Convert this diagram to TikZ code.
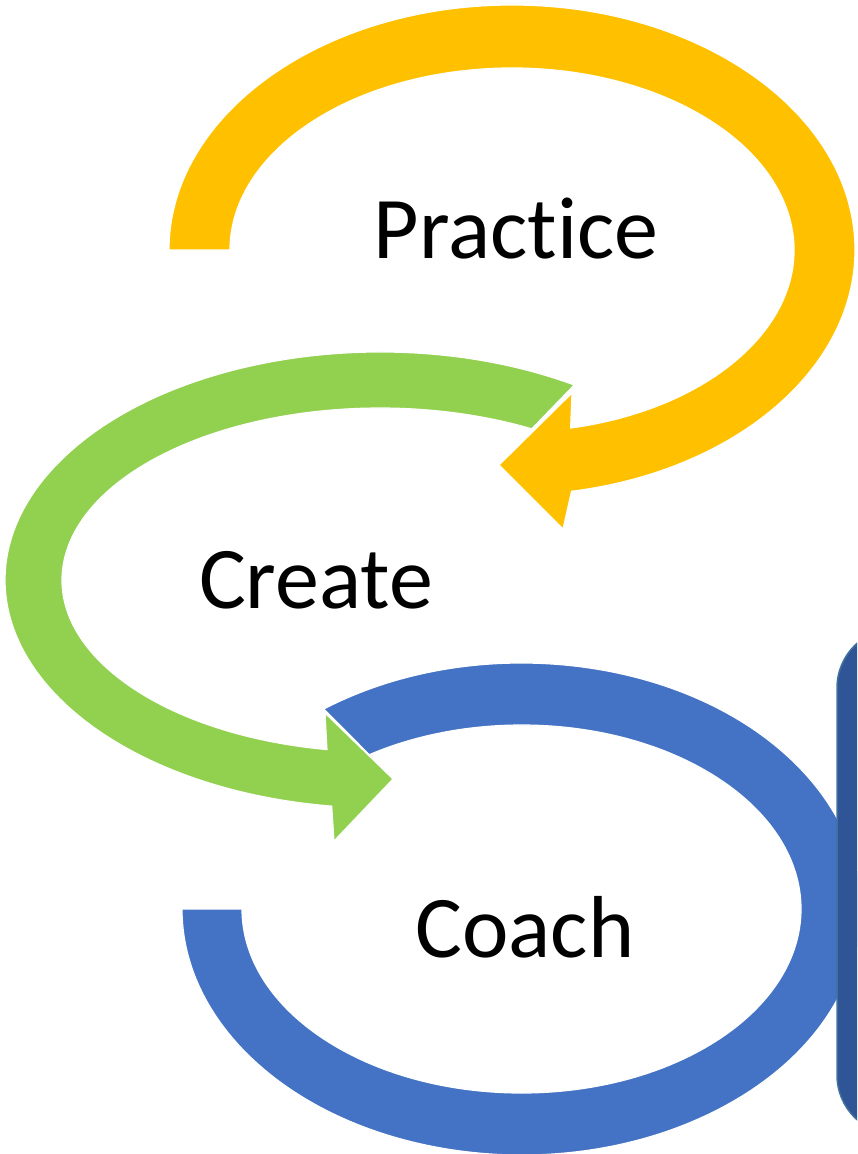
\documentclass[tikz,border=0pt]{standalone}
\usepackage{fontspec}
\setmainfont{Carlito}[RawFeature={-liga}]
\definecolor{cyellow}{HTML}{FFC000}
\definecolor{cgreen}{HTML}{92D050}
\definecolor{cblue}{HTML}{4472C4}
\definecolor{cdark}{HTML}{2F5597}
\definecolor{cdarkedge}{HTML}{41719C}
\tikzset{
  looparrow/.style={fill=#1, draw=white, line width=1.2pt, line join=miter},
  label/.style={font=\fontsize{88}{100}\selectfont, text=black, inner sep=0pt, anchor=base}
}
\begin{document}
\begin{tikzpicture}[x=1pt,y=1pt]
\useasboundingbox (0,0) rectangle (857,-1154);
\clip (0,0) rectangle (857,-1154);
% yellow loop
\path[looparrow=cyellow] ({512+343*cos(180)},{-250+245*sin(180)})
  arc[start angle=180, end angle=-80, x radius=343pt, y radius=245pt]
  -- (563,-529) -- (499,-465) -- (572,-393)
  -- ({512+282*cos(-78)},{-250+182*sin(-78)})
  arc[start angle=-78, end angle=180, x radius=282pt, y radius=182pt] -- cycle;
% blue loop
\path[looparrow=cblue] ({521.5+339.5*cos(125.6)},{-909+246*sin(125.6)})
  arc[start angle=125.6, end angle=-180, x radius=339.5pt, y radius=246pt]
  -- (242,-909)
  arc[start angle=-180, end angle=123, x radius=279.5pt, y radius=184pt] -- cycle;
% green loop
\path[looparrow=cgreen] ({380+375*cos(58.8)},{-580+228*sin(58.8)})
  arc[start angle=58.8, end angle=262.6, x radius=375pt, y radius=228pt]
  -- (334,-841) -- (393,-779) -- (325,-713)
  -- ({380+318*cos(260.4)},{-580+172*sin(260.4)})
  arc[start angle=260.4, end angle=61.5, x radius=318pt, y radius=172pt] -- cycle;
% side panel (on top of the blue loop)
\draw[fill=cdark, draw=cdarkedge, line width=1.5pt, rounded corners=60pt] (837,-628) rectangle (930,-1135);
% labels
\node[label] (practice) at (516,-258) {Pract\kern0pt ice};
\node[label] (create) at (316,-608) {Create};
\node[label] (coach) at (525,-957) {Coach};
\end{tikzpicture}
\end{document}
